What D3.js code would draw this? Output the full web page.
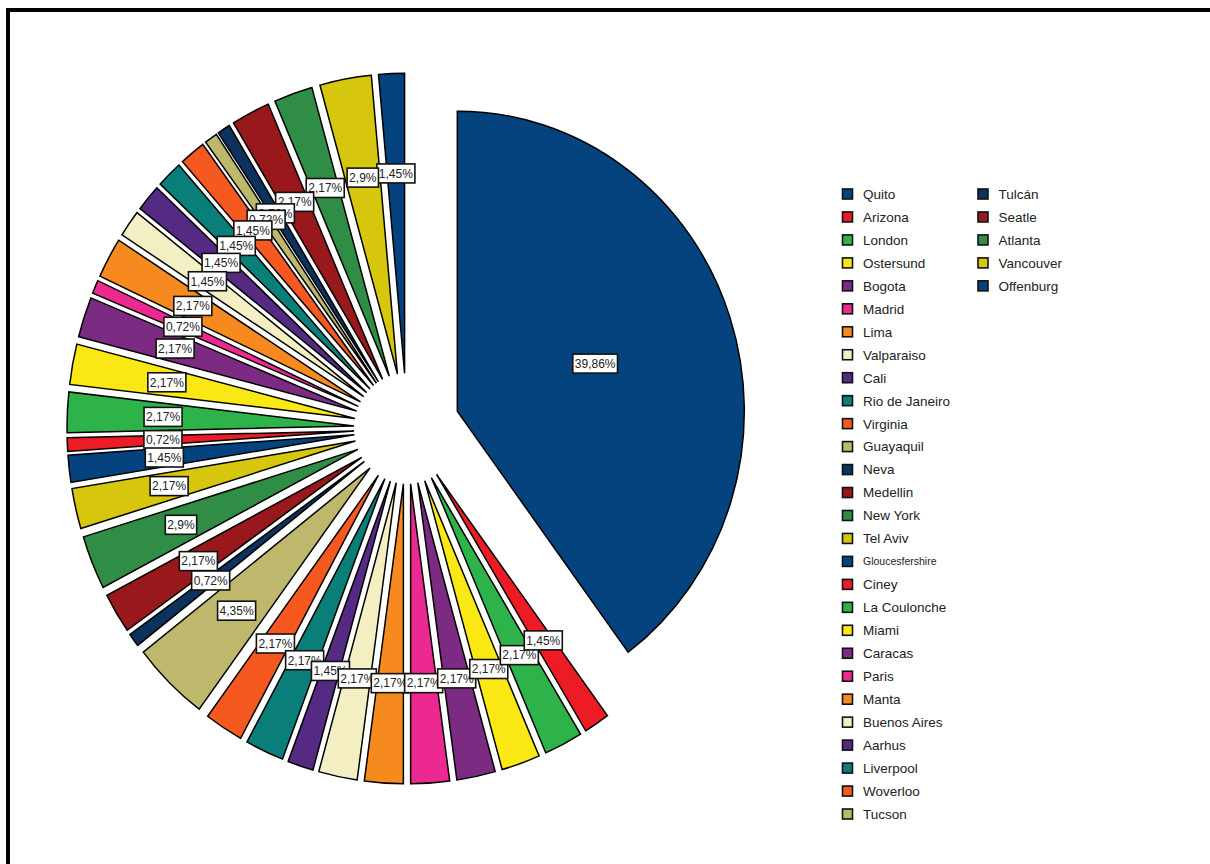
<!DOCTYPE html>
<html>
<head>
<meta charset="utf-8">
<script src="https://cdn.jsdelivr.net/npm/d3@7/dist/d3.min.js"></script>
<style>
	body { margin: 0; background: #fff; }
	svg { display: block; }
	text { font-family: "Liberation Sans", Arial, sans-serif; }
</style>
</head>
<body>
<svg id="Chart" width="1210" height="864"></svg>
<script>
	// cities, in the order the slices run clockwise from 12 o'clock
	var cities = [
		"Quito", "Arizona", "London", "Ostersund", "Bogota", "Madrid", "Lima",
		"Valparaiso", "Cali", "Rio de Janeiro", "Virginia", "Guayaquil", "Neva",
		"Medellin", "New York", "Tel Aviv", "Gloucesfershire", "Ciney",
		"La Coulonche", "Miami", "Caracas", "Paris", "Manta", "Buenos Aires",
		"Aarhus", "Liverpool", "Woverloo", "Tucson", "Tulcán", "Seatle",
		"Atlanta", "Vancouver", "Offenburg"
	];
	// counts (total 138 -> 0,72% per unit)
	var counts = [
		55, 2, 3, 3, 3, 3, 3,
		3, 2, 3, 3, 6, 1,
		3, 4, 3, 2, 1,
		3, 3, 3, 1, 3, 2,
		2, 2, 2, 1, 1, 3,
		3, 4, 2
	];
	var palette = [
		"#05437f", // blue
		"#ed1c24", // red
		"#2db34a", // green
		"#f9e814", // yellow
		"#7b2b81", // purple
		"#ec2891", // pink
		"#f68a1f", // orange
		"#f4efc2", // cream
		"#542a83", // dark purple
		"#0a7e79", // teal
		"#f5591f", // orange red
		"#beb86c", // khaki
		"#0c335e", // navy
		"#98181b", // dark red
		"#2f8d46", // dark green
		"#d7c60e"  // olive yellow
	];

	var svg = d3.select("#Chart"),
		cx = 407,
		cy = 428.5,
		radius = 287,
		squash = 300 / 287,   // pie is drawn slightly taller than wide
		explode = 53,
		total = d3.sum(counts);

	var data = cities.map(function(c, i){ return {name: c, count: counts[i], index: i}; });

	var color = d3.scaleOrdinal().domain(d3.range(cities.length))
		.range(palette);

	var pie = d3.pie().sort(null).value(function(d){ return d.count; })
		.startAngle(0).endAngle(2 * Math.PI);
	var arc = d3.arc().innerRadius(0).outerRadius(radius);
	var arcs = pie(data);

	function percentLabel(v){
		var p = Math.round(v / total * 10000) / 100;
		return String(p).replace(".", ",") + "%";
	}

	// offset of an exploded slice's apex
	function offset(d){
		var mid = (d.startAngle + d.endAngle) / 2;
		return [cx + explode * Math.sin(mid), cy - explode * Math.cos(mid) * squash];
	}

	/*
	 * Slices
	 */
	svg.append("g").selectAll("g.slice").data(arcs).enter()
		.append("g").attr("class", "slice")
		.attr("transform", function(d){
			var o = offset(d);
			return "translate(" + o[0] + "," + o[1] + ") scale(1," + squash + ")";
		})
		.append("path")
		.attr("d", arc)
		.attr("fill", function(d){ return color(d.data.index); })
		.attr("stroke", "#000")
		.attr("stroke-width", 1.5)
		.attr("stroke-linejoin", "miter")
		.attr("vector-effect", "non-scaling-stroke");

	/*
	 * Value labels, at the area centroid of each slice; drawn last-to-first
	 */
	var labels = svg.append("g").selectAll("g.label").data(arcs.slice().reverse()).enter()
		.append("g").attr("class", "label")
		.attr("transform", function(d){
			var o = offset(d),
				mid = (d.startAngle + d.endAngle) / 2,
				half = (d.endAngle - d.startAngle) / 2,
				c = 2 * radius * Math.sin(half) / (3 * half);
			return "translate(" + (o[0] + c * Math.sin(mid)) + "," + (o[1] - c * Math.cos(mid) * squash) + ")";
		});

	labels.each(function(d){
		var g = d3.select(this);
		var rect = g.append("rect");
		var t = g.append("text")
			.attr("text-anchor", "middle")
			.attr("dy", "0.36em")
			.attr("font-size", 12)
			.attr("fill", "#222")
			.text(percentLabel(d.data.count));
		var w = t.node().getComputedTextLength() + 4;
		rect.attr("x", -w / 2).attr("y", -9.5)
			.attr("width", w).attr("height", 19)
			.attr("fill", "#fff")
			.attr("stroke", "#111")
			.attr("stroke-width", 1.6);
	});

	/*
	 * Legend, two columns
	 */
	var perColumn = 28;
	var rowY = d3.scaleLinear().domain([0, perColumn - 1]).range([194, 814]);
	var colX = d3.scaleOrdinal().domain([0, 1]).range([842.5, 978]);

	var legend = svg.append("g").selectAll("g.legend").data(data).enter()
		.append("g").attr("class", "legend")
		.attr("transform", function(d){
			return "translate(" + colX(Math.floor(d.index / perColumn)) + "," + rowY(d.index % perColumn) + ")";
		});

	legend.append("rect")
		.attr("x", 0).attr("y", -5)
		.attr("width", 10).attr("height", 10)
		.attr("fill", function(d){ return color(d.index); })
		.attr("stroke", "#111")
		.attr("stroke-width", 1.6);

	legend.append("text")
		.attr("x", 20.5)
		.attr("dy", "0.36em")
		.attr("font-size", function(d){ return d.name.length > 14 ? 10.5 : 13.5; })
		.attr("fill", "#222")
		.text(function(d){ return d.name; });

	// frame round the chart (runs off the right and bottom edges)
	svg.append("rect")
		.attr("x", 8).attr("y", 10)
		.attr("width", 1250).attr("height", 900)
		.attr("fill", "none")
		.attr("stroke", "#000")
		.attr("stroke-width", 4);
</script>
</body>
</html>
